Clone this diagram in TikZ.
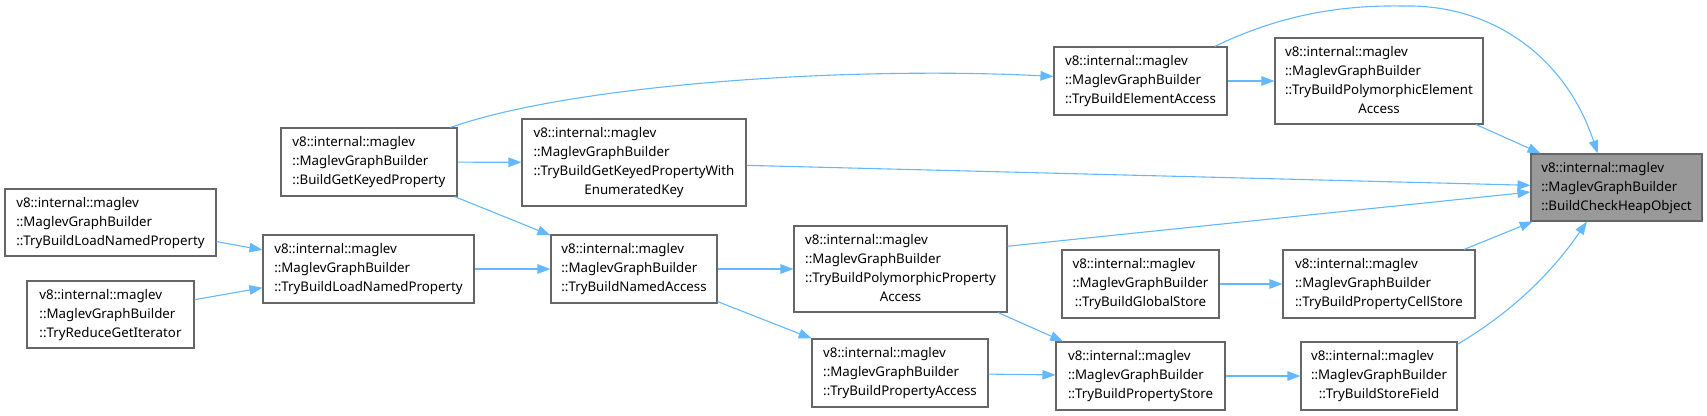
\documentclass[tikz,border=0pt]{standalone}
\usepackage{fontspec}
\setmainfont{Noto Sans}
\usetikzlibrary{arrows.meta}
\definecolor{edgeblue}{HTML}{63B8FF}
\definecolor{boxborder}{HTML}{666666}
\definecolor{hlfill}{HTML}{999999}
\newcommand{\lbl}[2]{\begin{tabular}{@{}l@{}}#1\\\multicolumn{1}{@{}c@{}}{#2}\end{tabular}}
\newcommand{\lblfour}[3]{\begin{tabular}{@{}l@{}}#1\\#2\\\multicolumn{1}{@{}c@{}}{#3}\end{tabular}}
\tikzset{
  fn/.style={draw=boxborder, fill=white, line width=1.1pt, inner sep=0pt,
    font=\fontsize{13.3}{19}\selectfont, text=black},
  hl/.style={fn, fill=hlfill},
  edge/.style={draw=edgeblue, line width=1.1pt, -{Triangle[length=13pt,width=9.5pt]}}
}
\begin{document}
\begin{tikzpicture}[x=1pt,y=-1pt]
\useasboundingbox (0,0) rectangle (1707,415);
% nodes
\node[fn, minimum width=211pt, minimum height=67pt] (A) at (110.5,222.5)
  {\lbl{v8::internal::maglev\\::MaglevGraphBuilder}{::TryBuildLoadNamedProperty}};
\node[fn, minimum width=167pt, minimum height=67pt] (B) at (110.5,314.5)
  {\lbl{v8::internal::maglev\\::MaglevGraphBuilder}{::TryReduceGetIterator}};
\node[fn, minimum width=211pt, minimum height=68pt] (C) at (368.5,269)
  {\lbl{v8::internal::maglev\\::MaglevGraphBuilder}{::TryBuildLoadNamedProperty}};
\node[fn, minimum width=176pt, minimum height=68pt] (D) at (369,162)
  {\lbl{v8::internal::maglev\\::MaglevGraphBuilder}{::BuildGetKeyedProperty}};
\node[fn, minimum width=224pt, minimum height=87pt] (E) at (634,162.5)
  {\lblfour{v8::internal::maglev}{::MaglevGraphBuilder\\::TryBuildGetKeyedPropertyWith}{EnumeratedKey}};
\node[fn, minimum width=166pt, minimum height=68pt] (F) at (634,269)
  {\lbl{v8::internal::maglev\\::MaglevGraphBuilder}{::TryBuildNamedAccess}};
\node[fn, minimum width=213pt, minimum height=86pt] (G) at (900.5,269)
  {\lblfour{v8::internal::maglev}{::MaglevGraphBuilder\\::TryBuildPolymorphicProperty}{Access}};
\node[fn, minimum width=176pt, minimum height=68pt] (H) at (900,373)
  {\lbl{v8::internal::maglev\\::MaglevGraphBuilder}{::TryBuildPropertyAccess}};
\node[fn, minimum width=173pt, minimum height=68pt] (I) at (1140.5,81)
  {\lbl{v8::internal::maglev\\::MaglevGraphBuilder}{::TryBuildElementAccess}};
\node[fn, minimum width=157pt, minimum height=68pt] (J) at (1140.5,284)
  {\lbl{v8::internal::maglev\\::MaglevGraphBuilder}{::TryBuildGlobalStore}};
\node[fn, minimum width=169pt, minimum height=68pt] (K) at (1140.5,376)
  {\lbl{v8::internal::maglev\\::MaglevGraphBuilder}{::TryBuildPropertyStore}};
\node[fn, minimum width=208pt, minimum height=86pt] (L) at (1379,81)
  {\lblfour{v8::internal::maglev}{::MaglevGraphBuilder\\::TryBuildPolymorphicElement}{Access}};
\node[fn, minimum width=192pt, minimum height=68pt] (M) at (1379,284)
  {\lbl{v8::internal::maglev\\::MaglevGraphBuilder}{::TryBuildPropertyCellStore}};
\node[fn, minimum width=156pt, minimum height=68pt] (N) at (1379,376)
  {\lbl{v8::internal::maglev\\::MaglevGraphBuilder}{::TryBuildStoreField}};
\node[hl, minimum width=171pt, minimum height=67pt] (O) at (1616.5,187.5)
  {\lbl{v8::internal::maglev\\::MaglevGraphBuilder}{::BuildCheckHeapObject}};
% edges
\draw[edge] (A) -- (C);
\draw[edge] (B) -- (C);
\draw[edge] (C) -- (F);
\draw[edge] (D) -- (E);
\draw[edge] (D) -- (F);
\draw[edge] (D.23.3) .. controls (574,84) and (850,66) .. (I.177);
\draw[edge] (I) -- (L);
\draw[edge] (I.25.6) .. controls (1280,15) and (1340,5) .. (1403,6)
  .. controls (1490,4) and (1565,55) .. (O.119);
\draw[edge] (L) -- (O);
\draw[edge] (E) -- (O);
\draw[edge] (F) -- (G);
\draw[edge] (F) -- (H);
\draw[edge] (G.12.3) -- (O.183.9);
\draw[edge] (G) -- (K);
\draw[edge] (H) -- (K);
\draw[edge] (J) -- (M);
\draw[edge] (M) -- (O);
\draw[edge] (K) -- (N);
\draw[edge] (N.22.8) .. controls (1490,325) and (1540,290) .. (O.229.6);
\end{tikzpicture}
\end{document}
